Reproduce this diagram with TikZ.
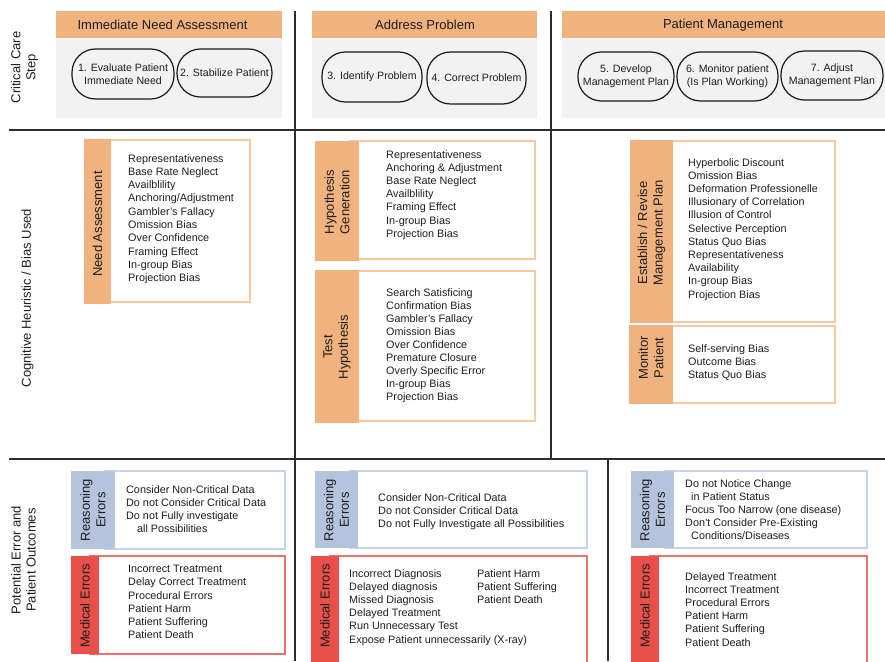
\documentclass[tikz,border=0pt]{standalone}
\usepackage{fontspec}
\setmainfont{Liberation Sans}
\definecolor{orH}{RGB}{240,178,126}
\definecolor{orB}{RGB}{246,201,160}
\definecolor{greyP}{RGB}{242,242,242}
\definecolor{blT}{RGB}{180,196,220}
\definecolor{blB}{RGB}{198,212,232}
\definecolor{rdT}{RGB}{233,80,74}
\definecolor{rdB}{RGB}{238,112,108}
\definecolor{txtc}{RGB}{30,30,30}
\definecolor{gridc}{RGB}{45,45,45}
\definecolor{ovalc}{RGB}{25,25,25}
\begin{document}
\begin{tikzpicture}[x=1pt,y=-1pt,
  hdrbox/.style={fill=orH, draw=none, inner sep=0pt},
  panel/.style={fill=greyP, draw=none, inner sep=0pt},
  hdrtext/.style={font=\fontsize{13}{15}\selectfont, text=txtc, inner sep=0pt},
  stadium/.style={draw=ovalc, line width=1.2pt, rounded corners=23.5pt, align=center, inner sep=0pt, font=\fontsize{10.6}{13}\selectfont, text=txtc},
  rowlab/.style={rotate=90, align=center, font=\fontsize{13}{15}\selectfont, text=txtc, inner sep=0pt},
  tablab/.style={rotate=90, align=center, font=\fontsize{13}{15.5}\selectfont, text=txtc, inner sep=0pt},
  tabor/.style={fill=orH, draw=none, inner sep=0pt},
  tabbl/.style={fill=blT, draw=none, inner sep=0pt},
  tabrd/.style={fill=rdT, draw=none, inner sep=0pt},
  boxor/.style={draw=orB, line width=1.2pt, fill=white, inner sep=0pt},
  boxbl/.style={draw=blB, line width=1.2pt, fill=white, inner sep=0pt},
  boxrd/.style={draw=rdB, line width=1.2pt, fill=white, inner sep=0pt},
  listtext/.style={anchor=north west, align=left, inner sep=0pt, font=\fontsize{10.8}{13.3}\selectfont, text=txtc},
  gridline/.style={draw=gridc, line width=1.5pt}
]
\useasboundingbox (0,0) rectangle (885,661);
\clip (0,0) rectangle (885,661);

% ---------- grid lines ----------
\coordinate (h1a) at (9,130);  \coordinate (h1b) at (885,130);
\coordinate (h2a) at (9,459);  \coordinate (h2b) at (885,459);
\coordinate (v1a) at (295,11); \coordinate (v1b) at (295,661);
\coordinate (v2a) at (551,11); \coordinate (v2b) at (551,459);
\coordinate (v3a) at (608,459); \coordinate (v3b) at (608,661);
\draw[gridline] (h1a) -- (h1b);
\draw[gridline] (h2a) -- (h2b);
\draw[gridline] (v1a) -- (v1b);
\draw[gridline] (v2a) -- (v2b);
\draw[gridline] (v3a) -- (v3b);

% ---------- row labels ----------
\node[rowlab] (rl1) at (24.5,67.5) {Critical Care\\Step};
\node[rowlab] (rl2) at (27.5,298) {Cognitive Heuristic / Bias Used};
\node[rowlab] (rl3) at (23.5,560) {Potential Error and\\Patient Outcomes};

% ---------- top row panels ----------
\node[panel, minimum width=226pt, minimum height=80pt] (g1) at (169,78) {};
\node[hdrbox, minimum width=226pt, minimum height=27pt] (h1) at (169,24.5) {};
\node[hdrtext] (h1t) at (162.5,25) {Immediate Need Assessment};

\node[panel, minimum width=225pt, minimum height=80pt] (g2) at (424.5,78) {};
\node[hdrbox, minimum width=225pt, minimum height=27pt] (h2) at (424.5,24.5) {};
\node[hdrtext] (h2t) at (425,25) {Address Problem};

\node[panel, minimum width=323pt, minimum height=80pt] (g3) at (723.5,78) {};
\node[hdrbox, minimum width=323pt, minimum height=27pt] (h3) at (723.5,24.5) {};
\node[hdrtext] (h3t) at (723,25) {Patient Management};

\node[stadium, minimum width=102pt, minimum height=50pt] (o1) at (123,74) {1. Evaluate Patient\\Immediate Need};
\node[stadium, minimum width=95pt, minimum height=48pt] (o2) at (224.5,73) {2. Stabilize Patient};
\node[stadium, minimum width=100pt, minimum height=50pt] (o3) at (372,77) {3. Identify Problem};
\node[stadium, minimum width=99pt, minimum height=52pt] (o4) at (476.5,78) {4. Correct Problem};
\node[stadium, minimum width=96pt, minimum height=49pt] (o5) at (626,76.5) {5. Develop\\Management Plan};
\node[stadium, minimum width=101pt, minimum height=49pt] (o6) at (727.5,76.5) {6. Monitor patient\\(Is Plan Working)};
\node[stadium, minimum width=102pt, minimum height=49pt] (o7) at (832,75.5) {7. Adjust\\Management Plan};

% ---------- middle row ----------
\node[boxor, minimum width=150pt, minimum height=162pt] (bA) at (175,221) {};
\node[tabor, minimum width=27pt, minimum height=165pt] (tA) at (97.5,221.5) {};
\node[tablab] (lA) at (97.5,224) {Need Assessment};
\node[listtext] (xA) at (128,154) {Representativeness\\Base Rate Neglect\\Availblility\\Anchoring/Adjustment\\Gambler's Fallacy\\Omission Bias\\Over Confidence\\Framing Effect\\In-group Bias\\Projection Bias};

\node[boxor, minimum width=185pt, minimum height=118pt] (bB1) at (442.5,200) {};
\node[tabor, minimum width=44pt, minimum height=120pt] (tB1) at (337,201) {};
\node[tablab] (lB1) at (337,202) {Hypothesis\\Generation};
\node[listtext, font=\fontsize{10.8}{13.2}\selectfont] (xB1) at (386,150) {Representativeness\\Anchoring \& Adjustment\\Base Rate Neglect\\Availblility\\Framing Effect\\In-group Bias\\Projection Bias};

\node[boxor, minimum width=185pt, minimum height=150pt] (bB2) at (442.5,346) {};
\node[tabor, minimum width=44pt, minimum height=153pt] (tB2) at (337,346.5) {};
\node[tablab] (lB2) at (337,347) {Test\\Hypothesis};
\node[listtext, font=\fontsize{10.8}{13.1}\selectfont] (xB2) at (386,288) {Search Satisficing\\Confirmation Bias\\Gambler's Fallacy\\Omission Bias\\Over Confidence\\Premature Closure\\Overly Specific Error\\In-group Bias\\Projection Bias};

\node[boxor, minimum width=170pt, minimum height=181pt] (bC1) at (750,231.5) {};
\node[tabor, minimum width=43pt, minimum height=183pt] (tC1) at (651.5,231.5) {};
\node[tablab] (lC1) at (651.5,233) {Establish / Revise\\Management Plan};
\node[listtext, font=\fontsize{10.8}{13.2}\selectfont] (xC1) at (688,158) {Hyperbolic Discount\\Omission Bias\\Deformation Professionelle\\Illusionary of Correlation\\Illusion of Control\\Selective Perception\\Status Quo Bias\\Representativeness\\Availability\\In-group Bias\\Projection Bias};

\node[boxor, minimum width=170pt, minimum height=77pt] (bC2) at (750,364.5) {};
\node[tabor, minimum width=44pt, minimum height=79pt] (tC2) at (651,364.5) {};
\node[tablab] (lC2) at (651,358) {Monitor\\Patient};
\node[listtext] (xC2) at (688,344) {Self-serving Bias\\Outcome Bias\\Status Quo Bias};

% ---------- bottom row ----------
\node[boxbl, minimum width=180pt, minimum height=78pt] (rbA) at (195,510) {};
\node[tabbl, minimum width=44pt, minimum height=78pt] (rtA) at (93,510) {};
\node[tablab] (rlA) at (93,510) {Reasoning\\Errors};
\node[listtext, font=\fontsize{10.8}{13.2}\selectfont] (rxA) at (126,485) {Consider Non-Critical Data\\Do not Consider Critical Data\\Do not Fully investigate\\\hspace*{11pt}all Possibilities};

\node[boxrd, minimum width=195pt, minimum height=98pt] (mbA) at (187.5,605) {};
\node[tabrd, minimum width=28pt, minimum height=98pt] (mtA) at (85,605) {};
\node[tablab] (mlA) at (85,606) {Medical Errors};
\node[listtext, font=\fontsize{10.8}{13.2}\selectfont] (mxA) at (128,565) {Incorrect Treatment\\Delay Correct Treatment\\Procedural Errors\\Patient Harm\\Patient Suffering\\Patient Death};

\node[boxbl, minimum width=237pt, minimum height=77pt] (rbB) at (468.5,509.5) {};
\node[tabbl, minimum width=43pt, minimum height=77pt] (rtB) at (336.5,509.5) {};
\node[tablab] (rlB) at (336.5,510) {Reasoning\\Errors};
\node[listtext, font=\fontsize{10.8}{13.2}\selectfont] (rxB) at (378,493) {Consider Non-Critical Data\\Do not Consider Critical Data\\Do not Fully Investigate all Possibilities};

\node[boxrd, minimum width=257pt, minimum height=114pt] (mbB) at (458.5,613) {};
\node[tabrd, minimum width=28pt, minimum height=114pt] (mtB) at (325,613) {};
\node[tablab] (mlB) at (325,606) {Medical Errors};
\node[listtext, font=\fontsize{10.8}{13.2}\selectfont] (mxB1) at (349,569) {Incorrect Diagnosis\\Delayed diagnosis\\Missed Diagnosis\\Delayed Treatment\\Run Unnecessary Test\\Expose Patient unnecessarily (X-ray)};
\node[listtext, font=\fontsize{10.8}{13.2}\selectfont] (mxB2) at (477,569) {Patient Harm\\Patient Suffering\\Patient Death};

\node[boxbl, minimum width=202pt, minimum height=77pt] (rbC) at (766,509.5) {};
\node[tabbl, minimum width=43pt, minimum height=77pt] (rtC) at (652.5,509.5) {};
\node[tablab] (rlC) at (652.5,510) {Reasoning\\Errors};
\node[listtext, font=\fontsize{10.8}{13.1}\selectfont] (rxC) at (685,479) {Do not Notice Change\\\hspace*{6pt}in Patient Status\\Focus Too Narrow (one disease)\\Don't Consider Pre-Existing\\\hspace*{6pt}Conditions/Diseases};

\node[boxrd, minimum width=217pt, minimum height=114pt] (mbC) at (758.5,613) {};
\node[tabrd, minimum width=28pt, minimum height=114pt] (mtC) at (645,613) {};
\node[tablab] (mlC) at (645,606) {Medical Errors};
\node[listtext, font=\fontsize{10.8}{13.2}\selectfont] (mxC) at (685,572) {Delayed Treatment\\Incorrect Treatment\\Procedural Errors\\Patient Harm\\Patient Suffering\\Patient Death};
\end{tikzpicture}
\end{document}
